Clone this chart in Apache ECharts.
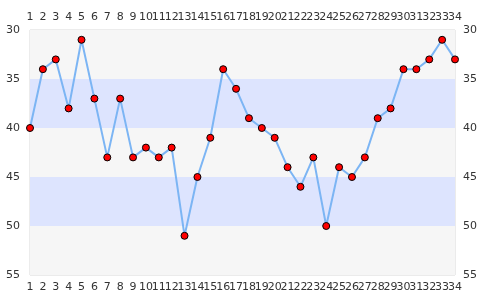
<!DOCTYPE html>
<html><head><meta charset="utf-8">
<script src="https://cdn.jsdelivr.net/npm/echarts@6/dist/echarts.min.js"></script>
<style>html,body{margin:0;padding:0;background:#fff}#c{width:485px;height:300px}</style>
</head><body><div id="c"></div>
<script>
const categories = ['1','2','3','4','5','6','7','8','9','10','11','12','13','14','15','16','17','18','19','20','21','22','23','24','25','26','27','28','29','30','31','32','33','34'];
const values = [40,34,33,38,31,37,43,37,43,42,43,42,51,45,41,34,36,39,40,41,44,46,43,50,44,45,43,39,38,34,34,33,31,33];
const yTicks = [30,35,40,45,50,55];

const chart = echarts.init(document.getElementById('c'), null, {renderer:'canvas'});
const lbl = {color:'#333', fontSize:11, fontFamily:'DejaVu Sans'};
const xAxisBase = {
  type:'category', data:categories, boundaryGap:false,
  axisLine:{show:false}, axisTick:{show:false}, splitLine:{show:false},
  axisLabel:Object.assign({interval:0, margin:7}, lbl)
};
const yAxisBase = {
  type:'value', inverse:true, min:yTicks[0], max:yTicks[yTicks.length-1], interval:5,
  axisLine:{show:false}, axisTick:{show:false}, splitLine:{show:false}
};
chart.setOption({
  animation:false,
  grid:{left:30, right:30, top:30, bottom:25, show:true, borderColor:'#d8d8d8', borderWidth:1, backgroundColor:'transparent'},
  xAxis:[Object.assign({position:'bottom'}, xAxisBase), Object.assign({position:'top'}, xAxisBase)],
  yAxis:[
    Object.assign({position:'left', axisLabel:Object.assign({margin:10}, lbl), splitArea:{show:true, areaStyle:{color:['#f6f6f6','#dde4fe']}}}, yAxisBase),
    Object.assign({position:'right', axisLabel:Object.assign({margin:8}, lbl)}, yAxisBase)
  ],
  series:[{
    type:'line', data:values, xAxisIndex:0, yAxisIndex:0,
    lineStyle:{color:'#7cb5f4', width:2},
    symbol:'circle', symbolSize:7,
    itemStyle:{color:'#ff0000', borderColor:'#000', borderWidth:1}
  }]
});
</script></body></html>
